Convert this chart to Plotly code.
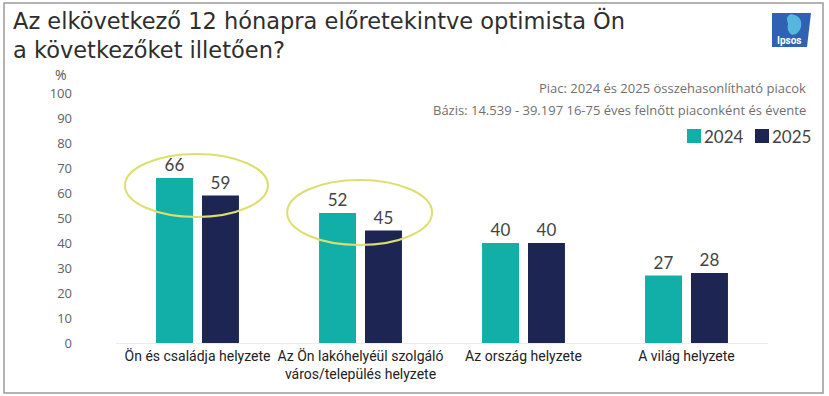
import plotly.graph_objects as go

# ---- data ----
categories = [
    "Ön és családja helyzete",
    "Az Ön lakóhelyéül szolgáló<br>város/település helyzete",
    "Az ország helyzete",
    "A világ helyzete",
]
series_names = ["2024", "2025"]
values_2024 = [66, 52, 40, 27]
values_2025 = [59, 45, 40, 28]
y_ticks = [0, 10, 20, 30, 40, 50, 60, 70, 80, 90, 100]

title_text = "Az elkövetkező 12 hónapra előretekintve optimista Ön<br>a következőket illetően?"
note1 = "Piac: 2024 és 2025 összehasonlítható piacok"
note2 = "Bázis: 14.539 - 39.197 16-75 éves felnőtt piaconként és évente"

# ---- layout geometry ----
W, H = 829, 396
L, R, T, B = 116, 61, 93, 53
PW, PH = W - L - R, H - T - B


def px(x):
    return (x - L) / PW


def py(y):
    return (H - B - y) / PH


TEAL = "#12aea8"
NAVY = "#1d2553"
LABEL_FONT = "Roboto, sans-serif"
MAIN_FONT = "Open Sans, sans-serif"
TITLE_FONT = "DejaVu Sans, Open Sans, sans-serif"
NUM_FONT = "Lato, sans-serif"

fig = go.Figure()
for name, vals, col in [(series_names[0], values_2024, TEAL), (series_names[1], values_2025, NAVY)]:
    fig.add_trace(go.Bar(
        x=categories, y=vals, name=name, marker=dict(color=col, line=dict(width=0)),
        text=[str(v) for v in vals], textposition="outside",
        textfont=dict(family=NUM_FONT, size=17, color="#444444"),
        cliponaxis=False, hoverinfo="skip",
    ))

shapes = []
# highlight ellipses
shapes.append(dict(type="circle", xref="x", yref="y", x0=-0.445, x1=0.432, y0=50.4, y1=75.6,
                   line=dict(color="#dcdf6e", width=2)))
shapes.append(dict(type="circle", xref="x", yref="y", x0=0.55, x1=1.439, y0=39.2, y1=65.2,
                   line=dict(color="#dcdf6e", width=2)))
# border
shapes.append(dict(type="rect", xref="paper", yref="paper", x0=px(4), x1=px(823), y0=py(393), y1=py(3),
                   line=dict(color="#9a9a9a", width=1.5), layer="below"))
# manual legend squares
shapes.append(dict(type="rect", xref="paper", yref="paper", x0=px(687), x1=px(701), y0=py(143), y1=py(129),
                   fillcolor=TEAL, line=dict(width=0)))
shapes.append(dict(type="rect", xref="paper", yref="paper", x0=px(755), x1=px(769), y0=py(143), y1=py(129),
                   fillcolor=NAVY, line=dict(width=0)))
# logo
shapes.append(dict(type="path", xref="paper", yref="paper",
                   path=f"M {px(772)} {py(13)} L {px(811)} {py(13)} L {px(807)} {py(47)} L {px(772)} {py(47)} Z",
                   fillcolor="#2f62b3", line=dict(width=0)))
shapes.append(dict(type="path", xref="paper", yref="paper",
                   path=f"M {px(791)} {py(14)} Q {px(803)} {py(16)} {px(801)} {py(27)} "
                        f"Q {px(799)} {py(34)} {px(792)} {py(35)} Q {px(786)} {py(31)} {px(788)} {py(24)} "
                        f"Q {px(785)} {py(16)} {px(791)} {py(14)} Z",
                   fillcolor="#56b6de", line=dict(width=0)))

annotations = [
    dict(text=title_text, xref="paper", yref="paper", x=px(11), y=py(5), xanchor="left", yanchor="top",
         align="left", showarrow=False, font=dict(family=TITLE_FONT, size=22.5, color="#2e2e2e")),
    dict(text=note1, xref="paper", yref="paper", x=px(808), y=py(88), xanchor="right", yanchor="middle",
         showarrow=False, font=dict(family=MAIN_FONT, size=13, color="#707070")),
    dict(text=note2, xref="paper", yref="paper", x=px(808), y=py(110), xanchor="right", yanchor="middle",
         showarrow=False, font=dict(family=MAIN_FONT, size=13, color="#707070")),
    dict(text="%", xref="paper", yref="paper", x=px(61), y=py(75), xanchor="center", yanchor="middle",
         showarrow=False, font=dict(family=MAIN_FONT, size=14, color="#555555")),
    dict(text=series_names[0], xref="paper", yref="paper", x=px(702), y=py(136), xanchor="left", yanchor="middle",
         showarrow=False, font=dict(family=NUM_FONT, size=17, color="#444444")),
    dict(text=series_names[1], xref="paper", yref="paper", x=px(770), y=py(136), xanchor="left", yanchor="middle",
         showarrow=False, font=dict(family=NUM_FONT, size=17, color="#444444")),
    dict(text="<b>Ipsos</b>", xref="paper", yref="paper", x=px(789), y=py(40), xanchor="center", yanchor="middle",
         showarrow=False, font=dict(family="Roboto, sans-serif", size=10, color="white")),
]

fig.update_layout(
    width=W, height=H,
    margin=dict(l=L, r=R, t=T, b=B, pad=0, autoexpand=False),
    paper_bgcolor="white", plot_bgcolor="white",
    barmode="group", bargap=0.436, bargroupgap=0.196,
    showlegend=False, hovermode=False,
    shapes=shapes, annotations=annotations,
    xaxis=dict(showgrid=False, showline=True, linecolor="#ececec", linewidth=1, ticks="",
               tickangle=0, automargin=False,
               tickfont=dict(family=LABEL_FONT, size=14, color="#222222"), fixedrange=True),
    yaxis=dict(range=[0, 100], tickvals=y_ticks, showgrid=False, zeroline=False, showline=False,
               ticks="", ticklabelstandoff=43, automargin=False,
               tickfont=dict(family=MAIN_FONT, size=13, color="#606060"), fixedrange=True),
)

fig.write_html("out.html", config={"displayModeBar": False, "staticPlot": True},
               post_script="document.body.style.margin='0';document.body.style.padding='0';")
